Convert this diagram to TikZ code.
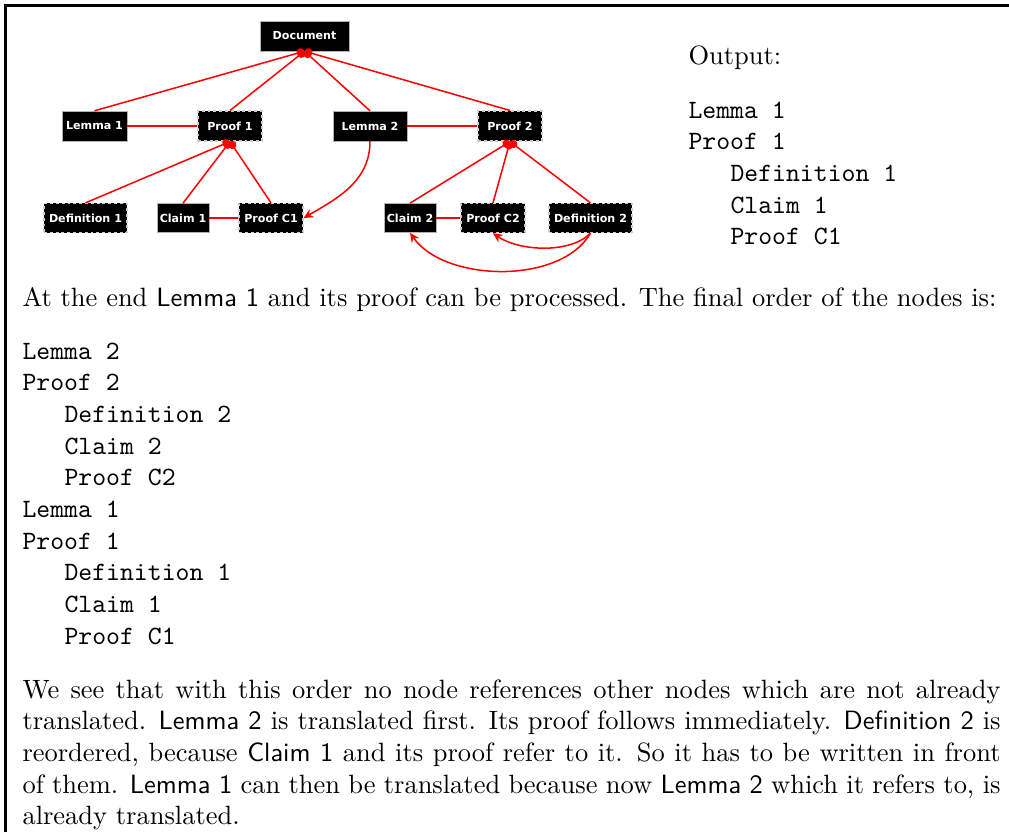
\documentclass[tikz,border=0pt]{standalone}
\usepackage{fontspec}
\newfontfamily\nodefont{DejaVu Sans}
\usetikzlibrary{arrows.meta}
\begin{document}
\begin{tikzpicture}[x=0.378pt,y=0.378pt,
  nd/.style={fill=black, text=white, font=\nodefont\bfseries\fontsize{4.2}{5}\selectfont,
    inner sep=0pt, minimum height=11.3pt, draw=gray!60, line width=0.2pt},
  low/.style={minimum height=11pt},
  dsh/.style={draw=white!80!black, dash pattern=on 1.1pt off 1.1pt, line width=0.45pt},
  link/.style={red, line width=0.57pt},
  tree/.style={link, -{Circle[length=3.1pt]}},
  refarrow/.style={link, -{Stealth[length=3.6pt,width=3.4pt]}},
  txt/.style={anchor=base west, inner sep=0pt}]
\useasboundingbox (0,0) rectangle (1009,-832);
% frame
\draw[line width=0.9pt] (5.5,-832) -- (5.5,-5.5) -- (1009,-5.5);
% nodes
\node[nd, minimum width=33.6pt] (doc) at (304.5,-36) {Document};
\node[nd, minimum width=24.6pt] (l1) at (94.5,-126) {Lemma 1};
\node[nd, dsh, minimum width=24.2pt] (p1) at (230,-126) {Proof 1};
\node[nd, minimum width=28pt] (l2) at (370,-126) {Lemma 2};
\node[nd, dsh, minimum width=24.2pt] (p2) at (510,-126) {Proof 2};
\node[nd, low, dsh, minimum width=31.4pt] (d1) at (85.5,-218) {Definition 1};
\node[nd, low, minimum width=19.7pt] (c1) at (183,-218) {Claim 1};
\node[nd, low, dsh, minimum width=24.2pt] (pc1) at (271,-218) {Proof C1};
\node[nd, low, minimum width=19.7pt] (c2) at (410,-218) {Claim 2};
\node[nd, low, dsh, minimum width=24.2pt] (pc2) at (493,-218) {Proof C2};
\node[nd, low, dsh, minimum width=31.4pt] (d2) at (590.5,-218) {Definition 2};
% tree edges
\foreach \c in {l1,p1,l2,p2} \draw[tree] (\c.north) -- (doc.south);
\foreach \c in {d1,c1,pc1} \draw[tree] (\c.north) -- (p1.south);
\foreach \c in {c2,pc2,d2} \draw[tree] (\c.north) -- (p2.south);
% horizontal links
\draw[link] (l1.east) -- (p1.west);
\draw[link] (l2.east) -- (p2.west);
\draw[link] (c1.east) -- (pc1.west);
\draw[link] (c2.east) -- (pc2.west);
% references
\draw[refarrow] (l2.south) to[out=-90,in=30] (pc1.east);
\draw[refarrow] (d2.south) to[out=-135,in=-35,looseness=0.8] (pc2.south);
\draw[refarrow] (d2.south) to[out=-120,in=-55,looseness=0.85] (c2.south);
% right column text
\node[txt] (out) at (688,-64) {Output:};
\node[txt] (r1) at (688,-118) {\texttt{Lemma 1}};
\node[txt] (r2) at (688,-149.7) {\texttt{Proof 1}};
\node[txt] (r3) at (730,-181.4) {\texttt{Definition 1}};
\node[txt] (r4) at (730,-213) {\texttt{Claim 1}};
\node[txt] (r5) at (730,-244.8) {\texttt{Proof C1}};
% paragraph 1
\node[txt] (p1txt) at (22,-306) {At the end \textsf{Lemma 1} and its proof can be processed. The final order of the nodes is:};
% order list
\node[txt] (o1) at (22,-359) {\texttt{Lemma 2}};
\node[txt] (o2) at (22,-390.7) {\texttt{Proof 2}};
\node[txt] (o3) at (64,-422.4) {\texttt{Definition 2}};
\node[txt] (o4) at (64,-454.1) {\texttt{Claim 2}};
\node[txt] (o5) at (64,-485.8) {\texttt{Proof C2}};
\node[txt] (o6) at (22,-517.5) {\texttt{Lemma 1}};
\node[txt] (o7) at (22,-549.2) {\texttt{Proof 1}};
\node[txt] (o8) at (64,-580.9) {\texttt{Definition 1}};
\node[txt] (o9) at (64,-612.6) {\texttt{Claim 1}};
\node[txt] (o10) at (64,-644.3) {\texttt{Proof C1}};
% paragraph 2
\node[txt] (q1) at (22,-698) {\makebox[369.7pt][s]{We see that with this order no node references other nodes which are not already}};
\node[txt] (q2) at (22,-729.7) {\makebox[369.7pt][s]{translated. \textsf{Lemma 2} is translated first. Its proof follows immediately. \textsf{Definition 2} is}};
\node[txt] (q3) at (22,-761.4) {\makebox[369.7pt][s]{reordered, because \textsf{Claim 1} and its proof refer to it. So it has to be written in front}};
\node[txt] (q4) at (22,-793.1) {\makebox[369.7pt][s]{of them. \textsf{Lemma 1} can then be translated because now \textsf{Lemma 2} which it refers to, is}};
\node[txt] (q5) at (22,-824.8) {already translated.};
\end{tikzpicture}
\end{document}
